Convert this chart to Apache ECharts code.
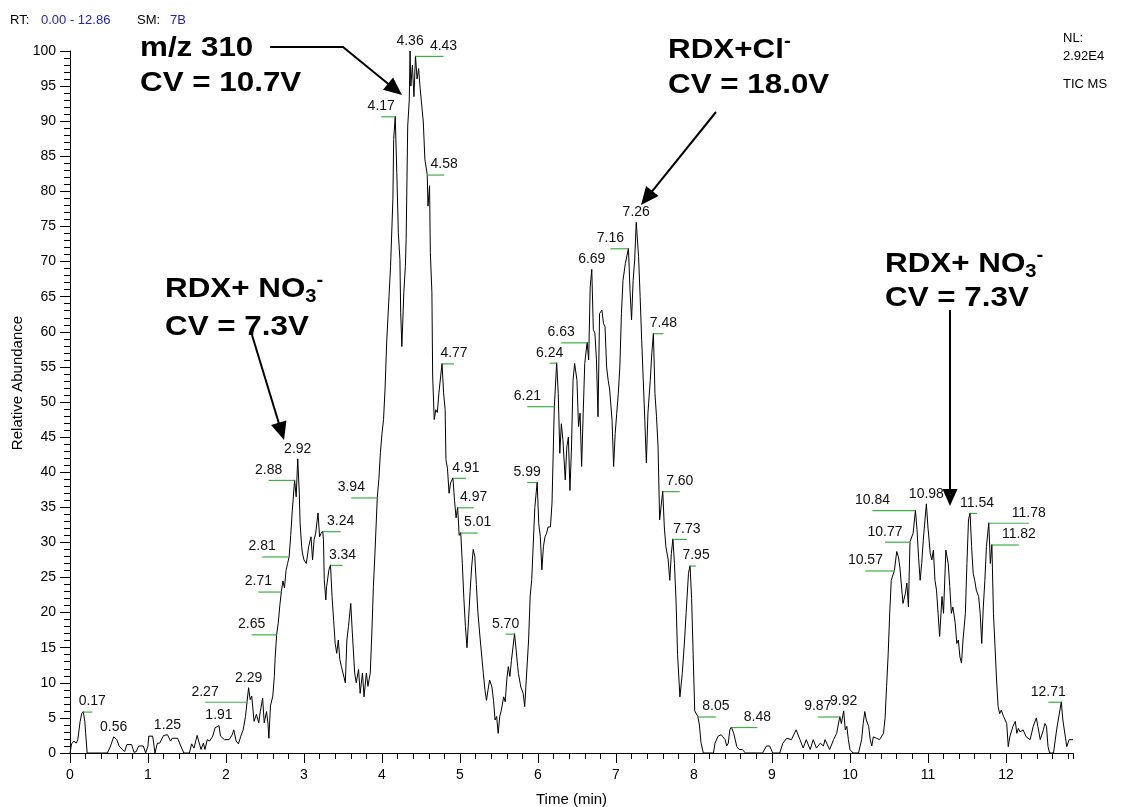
<!DOCTYPE html>
<html><head><meta charset="utf-8">
<script src="https://cdn.jsdelivr.net/npm/echarts@6/dist/echarts.min.js"></script>
<style>html,body{margin:0;padding:0;background:#fff}#c{width:1130px;height:807px}</style>
</head><body><div id="c"></div>
<script>
// ---- data ----
const times = [0.00,0.02,0.05,0.08,0.10,0.13,0.15,0.17,0.19,0.20,0.22,0.30,0.40,0.48,0.52,0.56,0.60,0.63,0.67,0.70,0.73,0.79,0.82,0.85,0.88,0.94,0.97,1.00,1.01,1.06,1.09,1.12,1.15,1.20,1.25,1.27,1.29,1.31,1.38,1.42,1.46,1.53,1.56,1.59,1.63,1.68,1.71,1.73,1.76,1.79,1.83,1.86,1.91,1.93,1.98,2.04,2.08,2.10,2.13,2.16,2.19,2.22,2.25,2.27,2.29,2.31,2.33,2.36,2.39,2.42,2.44,2.47,2.49,2.52,2.54,2.55,2.57,2.60,2.62,2.63,2.65,2.67,2.69,2.71,2.73,2.75,2.77,2.79,2.81,2.83,2.85,2.88,2.90,2.92,2.94,2.95,2.97,2.98,3.00,3.03,3.06,3.09,3.11,3.13,3.15,3.18,3.20,3.22,3.24,3.25,3.26,3.28,3.29,3.32,3.34,3.36,3.38,3.40,3.42,3.44,3.46,3.48,3.50,3.53,3.55,3.57,3.60,3.62,3.65,3.67,3.70,3.72,3.75,3.77,3.80,3.82,3.85,3.87,3.89,3.91,3.94,3.96,3.98,4.00,4.02,4.04,4.06,4.09,4.11,4.14,4.15,4.17,4.19,4.21,4.23,4.24,4.255,4.28,4.30,4.31,4.33,4.35,4.36,4.37,4.39,4.41,4.43,4.45,4.47,4.49,4.53,4.55,4.58,4.59,4.61,4.62,4.64,4.65,4.67,4.69,4.71,4.73,4.77,4.79,4.81,4.82,4.84,4.86,4.88,4.91,4.93,4.95,4.97,4.99,5.01,5.03,5.05,5.07,5.09,5.11,5.13,5.15,5.17,5.19,5.21,5.23,5.26,5.30,5.32,5.34,5.36,5.38,5.41,5.43,5.45,5.47,5.49,5.51,5.53,5.56,5.58,5.60,5.62,5.64,5.66,5.70,5.72,5.74,5.75,5.78,5.81,5.83,5.85,5.88,5.90,5.92,5.94,5.96,5.99,6.01,6.03,6.05,6.07,6.09,6.11,6.13,6.16,6.18,6.21,6.24,6.26,6.28,6.30,6.32,6.35,6.37,6.39,6.41,6.43,6.45,6.47,6.50,6.52,6.54,6.56,6.58,6.60,6.63,6.65,6.67,6.69,6.71,6.73,6.75,6.77,6.79,6.82,6.84,6.86,6.88,6.90,6.92,6.95,6.97,6.99,7.01,7.03,7.05,7.07,7.09,7.12,7.16,7.18,7.20,7.22,7.24,7.26,7.29,7.31,7.33,7.35,7.37,7.39,7.41,7.44,7.46,7.48,7.50,7.52,7.54,7.56,7.60,7.62,7.64,7.67,7.69,7.71,7.73,7.75,7.77,7.79,7.82,7.85,7.88,7.90,7.93,7.95,7.97,7.99,8.01,8.05,8.07,8.09,8.12,8.25,8.27,8.31,8.35,8.40,8.42,8.44,8.46,8.48,8.51,8.55,8.58,8.62,8.66,8.88,8.93,8.97,9.01,9.10,9.14,9.19,9.25,9.31,9.36,9.40,9.44,9.49,9.53,9.57,9.62,9.66,9.68,9.74,9.79,9.83,9.87,9.89,9.92,9.94,9.96,9.98,10.00,10.04,10.11,10.15,10.17,10.19,10.21,10.24,10.26,10.28,10.30,10.34,10.38,10.43,10.45,10.47,10.49,10.51,10.53,10.57,10.60,10.62,10.64,10.68,10.71,10.73,10.75,10.77,10.81,10.84,10.86,10.88,10.90,10.92,10.94,10.98,11.00,11.03,11.05,11.07,11.09,11.11,11.13,11.15,11.18,11.20,11.23,11.26,11.28,11.30,11.32,11.35,11.37,11.39,11.41,11.43,11.45,11.48,11.50,11.52,11.54,11.56,11.58,11.60,11.62,11.65,11.67,11.69,11.71,11.73,11.75,11.78,11.80,11.82,11.84,11.86,11.88,11.90,11.92,11.94,11.97,11.99,12.01,12.03,12.05,12.09,12.12,12.14,12.16,12.18,12.22,12.26,12.31,12.35,12.39,12.41,12.44,12.48,12.50,12.52,12.54,12.56,12.61,12.65,12.71,12.73,12.78,12.81,12.86];
const abundance = [0,1.3,1.7,1.4,1.9,4.5,5.6,5.9,4.5,2.9,0,0,0,0,1.0,2.3,1.9,1.0,0.5,0.2,1.2,1.2,0.1,0.2,1.0,1.0,0,1.0,2.4,2.4,0,1.4,1.4,2.5,2.6,2.5,1.7,2.1,2.1,1.0,0,0,1.3,0.7,2.5,0.5,1.4,0.5,1.9,1.7,2.4,3.6,3.9,2.4,1.9,1.9,2.6,3.3,1.7,1.3,2.4,3.3,5.2,7.3,9.3,7.6,8.1,4.5,5.5,4.3,5.9,7.8,4.3,5.9,4.0,2.1,6.7,8.1,10.9,13.5,16.9,18.5,21.0,23.0,24.5,23.5,26.0,27.0,28.0,31.0,34.5,38.9,36.5,41.9,37.0,32.8,29.4,28.5,27.5,27.0,29.4,30.8,27.5,30.4,31.3,34.2,30.8,31.3,31.6,30.4,24.7,21.8,23.7,26.1,26.8,22.3,18.9,15.6,14.2,16.1,13.3,12.3,11.4,10.0,16.1,18.0,21.3,17.1,11.4,10.0,11.9,8.5,11.4,8.0,11.4,9.5,11.4,17.1,23.7,28.5,36.4,39.0,42.8,45.5,47.5,52.0,58.4,65.0,69.3,78.9,87.4,90.7,82.7,74.1,70.3,62.7,57.9,65.6,69.3,73.2,89.3,93.0,100,95.0,98.0,93.5,99.3,96.0,97.5,94.6,89.9,84.6,82.4,77.9,80.8,71.3,65.6,53.7,47.5,48.9,48.5,51.3,55.5,51.3,48.9,41.8,40.5,37.0,38.5,39.2,36.0,33.5,35.0,31.0,31.4,27.0,22.0,18.0,15.0,19.0,23.0,26.5,29.0,28.0,24.0,20.0,16.1,11.3,9.0,7.5,9.0,10.4,9.4,7.5,4.7,5.2,2.8,5.2,6.1,8.0,7.3,10.4,12.3,10.9,13.2,17.0,14.7,12.3,11.3,9.4,8.5,6.6,10.4,16.1,22.3,24.7,29.9,35.0,38.6,32.7,30.8,26.1,29.4,30.8,31.3,32.2,32.2,35.6,49.4,55.6,51.2,42.7,46.9,44.6,38.9,43.6,45.0,37.4,43.6,53.1,55.5,53.1,46.5,48.4,40.8,48.4,55.5,58.5,56.0,66.4,68.9,60.3,59.8,56.0,47.9,62.6,63.1,61.2,60.7,55.0,53.1,51.7,47.4,40.8,45.5,48.4,51.2,55.0,62.6,67.3,69.7,71.9,66.0,61.7,67.3,70.2,75.6,70.7,65.0,58.8,53.1,47.4,41.3,48.4,53.1,57.0,59.8,51.2,47.9,43.6,33.2,37.3,32.2,29.4,27.5,24.6,28.4,30.5,27.0,21.8,14.0,8.0,11.3,16.1,20.0,25.6,26.7,22.0,14.0,6.0,5.2,4.0,1.5,0,0,1.4,2.4,2.6,1.9,1.0,1.4,3.3,3.7,2.8,0.9,0.5,0.5,0,0,1.0,1.0,0,0,1.4,2.1,1.9,3.3,1.9,0.7,1.9,0.5,1.9,0.7,1.4,1.0,1.9,0.5,1.9,2.8,5.2,4.2,6.0,3.3,3.8,1.9,0.5,0,0,1.9,4.2,5.9,4.7,3.8,1.9,1.0,2.3,2.1,1.9,2.8,4.9,9.5,14.0,19.9,24.6,26.0,28.7,28.0,26.5,21.3,22.7,24.2,20.8,30.1,31.3,34.6,31.8,27.9,24.6,27.0,30.3,35.5,32.2,28.4,27.5,28.9,24.6,23.2,19.9,16.6,22.3,19.9,28.9,27.0,23.7,19.9,20.8,18.5,15.6,16.1,13.7,12.8,16.1,19.9,27.0,33.2,34.2,29.4,25.6,24.6,23.2,22.3,19.9,15.6,20.8,24.6,29.4,32.8,27.0,29.7,19.9,15.2,10.4,6.6,5.6,6.1,5.2,5.2,4.2,0.9,2.3,3.8,4.5,2.8,3.5,3.0,3.3,2.3,1.9,3.8,5.0,3.8,1.9,3.3,4.2,3.8,0.9,0,0,3.3,7.3,4.7,0.9,1.9,1.9];
const peakTimes = [0.17,0.56,1.25,1.91,2.27,2.29,2.65,2.71,2.81,2.88,2.92,3.24,3.34,3.94,4.17,4.36,4.43,4.58,4.77,4.91,4.97,5.01,5.70,5.99,6.21,6.24,6.63,6.69,7.16,7.26,7.48,7.60,7.73,7.95,8.05,8.48,9.87,9.92,10.57,10.77,10.84,10.98,11.54,11.78,11.82,12.71];
const peakHeights = [5.9,2.3,2.6,3.9,7.3,9.3,16.9,23.0,28.0,38.9,41.9,31.6,26.8,36.4,90.7,100,99.3,82.4,55.5,39.2,35.0,31.4,17.0,38.6,49.4,55.6,58.5,68.9,71.9,75.6,59.8,37.3,30.5,26.7,5.2,3.7,5.2,6.0,26.0,30.1,34.6,35.5,34.2,32.8,29.7,7.3];
const xTickLabels = ['0','1','2','3','4','5','6','7','8','9','10','11','12'];
const yMax = 100, yStep = 5, xEnd = 12.86;

// ---- layout / style (not data) ----
const peakLabelOffsets = [9,0,0,0,-42,0,-25,-23,-27,-26,0,18,12,-26,-14,0,28,17,12,13,16,17,-9,-10,-27,-7,-26,0,-18,0,10,17,14,6,18,26,-22,0,-29,-25,-43,0,7,40,27,-13];
const FONT = '"Liberation Sans", Arial, sans-serif';
const GRID = {left: 70, right: 57, top: 51, bottom: 54};
const PLOT_W = 1130 - GRID.left - GRID.right;

const chart = echarts.init(document.getElementById('c'), null, {renderer: 'canvas'});

function arrow(pts, head, half) {
  const n = pts.length;
  const [tx, ty] = pts[n - 1], [px, py] = pts[n - 2];
  const dx = tx - px, dy = ty - py, L = Math.hypot(dx, dy), ux = dx / L, uy = dy / L;
  const bx = tx - ux * head, by = ty - uy * head;
  return [
    {type: 'polyline', shape: {points: pts.slice(0, n - 1).concat([[bx + ux * 2, by + uy * 2]])},
      style: {stroke: '#000', lineWidth: 2, fill: 'none'}, z: 100},
    {type: 'polygon', shape: {points: [[tx, ty], [bx - uy * half, by + ux * half], [bx + uy * half, by - ux * half]]},
      style: {fill: '#000'}, z: 100}
  ];
}
const richBig = {
  sub: {fontSize: 18, fontWeight: 'bold', fontFamily: FONT, lineHeight: 18, verticalAlign: 'bottom', fill: '#000'},
  sup: {fontSize: 18, fontWeight: 'bold', fontFamily: FONT, lineHeight: 18, verticalAlign: 'top', fill: '#000'}
};
function bigText(x, y, text) {
  return {type: 'text', x: x, y: y, scaleX: 1.12, z: 100,
    style: {text: text, fontSize: 28, fontWeight: 'bold', fontFamily: FONT, lineHeight: 34,
      fill: '#000', align: 'left', verticalAlign: 'middle', rich: richBig}};
}
function smallText(x, y, text, color, align) {
  return {type: 'text', x: x, y: y, z: 100,
    style: {text: text, fontSize: 13, fontFamily: FONT, fill: color || '#000', align: align || 'left', verticalAlign: 'middle'}};
}

const graphics = [
  smallText(10, 20, 'RT:'), smallText(41, 20, '0.00 - 12.86', '#2323a8'),
  smallText(137, 20, 'SM:'), smallText(170, 20, '7B', '#2323a8'),
  smallText(1063, 38, 'NL:'), smallText(1063, 56, '2.92E4'), smallText(1063, 84, 'TIC MS'),
  {type: 'text', x: 18, y: 383, rotation: Math.PI / 2, z: 100,
    style: {text: 'Relative Abundance', fontSize: 15, fontFamily: FONT, fill: '#000', align: 'center', verticalAlign: 'middle'}},
  bigText(140, 48, 'm/z 310'), bigText(140, 83, 'CV = 10.7V'),
  bigText(668, 50, 'RDX+Cl{sup|-}'), bigText(668, 85, 'CV = 18.0V'),
  bigText(165, 289, 'RDX+ NO{sub|3}{sup|-}'), bigText(165, 327, 'CV = 7.3V'),
  bigText(885, 264, 'RDX+ NO{sub|3}{sup|-}'), bigText(885, 298, 'CV = 7.3V')
].concat(
  arrow([[270, 47], [343, 47], [402, 95]], 18, 8),
  arrow([[716, 112], [641, 205]], 18, 8),
  arrow([[252, 335], [284, 440]], 18, 8),
  arrow([[950, 310], [950, 506]], 17, 7.5)
);

const axisBlack = {lineStyle: {color: '#000', width: 1}};
const labelStyle = {color: '#000', fontSize: 14, fontFamily: FONT};

chart.setOption({
  animation: false,
  backgroundColor: '#fff',
  grid: [
    Object.assign({outerBoundsMode: 'none', containLabel: false}, GRID),
    {outerBoundsMode: 'none', containLabel: false, left: GRID.left, top: GRID.top, bottom: GRID.bottom,
      right: 1130 - GRID.left - PLOT_W * (12 / xEnd)}
  ],
  xAxis: [
    {type: 'value', gridIndex: 0, min: 0, max: xEnd, interval: 0.2,
      axisLine: axisBlack, axisTick: {length: 6, lineStyle: {color: '#000'}},
      axisLabel: {show: false}, splitLine: {show: false},
      name: 'Time (min)', nameLocation: 'middle', nameGap: 39,
      nameTextStyle: {color: '#000', fontSize: 15, fontFamily: FONT}},
    {type: 'value', gridIndex: 1, min: 0, max: 12, interval: 1,
      axisLine: {show: false}, axisTick: {length: 10, lineStyle: {color: '#000'}},
      axisLabel: Object.assign({margin: 15, formatter: (v) => xTickLabels[Math.round(v)]}, labelStyle),
      splitLine: {show: false}}
  ],
  yAxis: [
    {type: 'value', gridIndex: 0, min: 0, max: yMax, interval: yStep,
      axisLine: Object.assign({show: true}, axisBlack),
      axisTick: {length: 10, lineStyle: {color: '#000'}},
      minorTick: {show: true, splitNumber: 5, length: 6, lineStyle: {color: '#000'}},
      axisLabel: Object.assign({margin: 14}, labelStyle),
      splitLine: {show: false}, minorSplitLine: {show: false}},
    {type: 'value', gridIndex: 1, min: 0, max: yMax, show: false}
  ],
  series: [
    {type: 'line', xAxisIndex: 0, yAxisIndex: 0, data: times.map((t, i) => [t, abundance[i]]),
      symbol: 'none', lineStyle: {color: '#000', width: 1}, z: 5},
    {type: 'custom', xAxisIndex: 0, yAxisIndex: 0, z: 6, clip: false,
      data: peakTimes.map((t, i) => [t, peakHeights[i], i]),
      renderItem: function (params, api) {
        const p = api.coord([api.value(0), api.value(1)]);
        const off = peakLabelOffsets[api.value(2)];
        const lx = p[0] + off;
        const children = [];
        if (off !== 0) {
          children.push({type: 'line', shape: {x1: p[0], y1: p[1] + 0.5, x2: lx, y2: p[1] + 0.5},
            style: {stroke: '#3cb043', lineWidth: 1.2}});
        }
        children.push({type: 'text', x: lx, y: p[1] - 3,
          style: {text: api.value(0).toFixed(2), fontSize: 14, fontFamily: FONT, fill: '#111',
            align: 'center', verticalAlign: 'bottom'}});
        return {type: 'group', children: children};
      }}
  ],
  graphic: graphics
});
</script>
</body></html>
